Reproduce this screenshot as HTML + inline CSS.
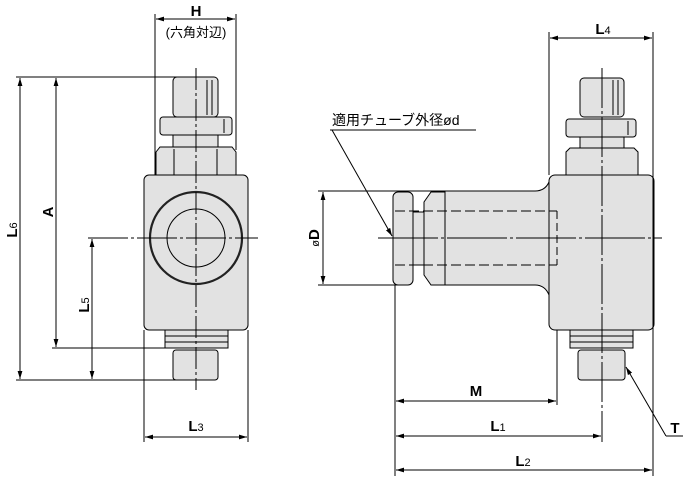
<!DOCTYPE html>
<html><head><meta charset="utf-8"><style>body{margin:0;background:#fff}svg{display:block}</style></head><body>
<svg width="683" height="478" viewBox="0 0 683 478" xmlns="http://www.w3.org/2000/svg" font-family="Liberation Sans, Noto Sans CJK JP, sans-serif">
<defs>
<marker id="a" viewBox="0 0 10 10" refX="10" refY="5" markerWidth="8" markerHeight="8" orient="auto-start-reverse" markerUnits="userSpaceOnUse"><path d="M0,2 L10,5 L0,8 z" fill="#000"/></marker>
</defs>
<g stroke="#000" stroke-width="1" fill="#e2e2e2">
<!-- LEFT VIEW -->
<rect x="173" y="77" width="45" height="40" rx="4"/>
<line x1="207" y1="80" x2="207" y2="115"/><line x1="212" y1="80" x2="212" y2="115"/>
<rect x="160" y="117" width="72" height="18" rx="3"/>
<line x1="224" y1="119" x2="224" y2="133"/>
<rect x="173" y="135" width="45" height="12"/>
<path d="M160,147 L232,147 L236,152 L236,175 L156,175 L156,152 Z"/>
<line x1="174" y1="149" x2="174" y2="175"/><line x1="217" y1="149" x2="217" y2="175"/>
<rect x="144" y="175" width="104" height="155" rx="5"/>
<circle cx="196" cy="238" r="46" stroke-width="2.2" stroke="#222"/>
<circle cx="196" cy="238" r="29"/>
<rect x="165" y="330" width="63" height="18" fill="#e2e2e2"/>
<line x1="165" y1="336" x2="228" y2="336"/><line x1="165" y1="342" x2="228" y2="342"/>
<rect x="173" y="350" width="45" height="30" rx="3"/>
<!-- RIGHT VIEW -->
<rect x="580" y="78" width="44" height="39" rx="4"/>
<line x1="613" y1="80" x2="613" y2="115"/><line x1="618" y1="80" x2="618" y2="115"/>
<rect x="566" y="119" width="70" height="18" rx="3"/>
<line x1="628" y1="121" x2="628" y2="135"/>
<rect x="580" y="137" width="44" height="11"/>
<path d="M570,148 L634,148 L638,152 L638,175 L566,175 L566,152 Z"/>
<path d="M445,191 L535,191 Q545,191 549,182 L549,295 Q545,285 535,285 L445,285 Z"/>
<rect x="549" y="175" width="105" height="155" rx="6"/>
<rect x="413" y="212" width="12" height="53"/>
<path d="M424,202 L431,192 L445,192 L445,285 L431,285 L424,275 Z"/>
<rect x="393" y="192" width="20" height="93" rx="5"/>
<rect x="570" y="330" width="63" height="18"/>
<line x1="570" y1="336" x2="633" y2="336"/><line x1="570" y1="342" x2="633" y2="342"/>
<rect x="578" y="350" width="47" height="30" rx="3"/>
</g>
<g stroke="#000" stroke-width="1" fill="none">
<line x1="155" y1="14" x2="155" y2="175"/><line x1="236" y1="14" x2="236" y2="150"/>
<line x1="156" y1="19" x2="235" y2="19" marker-start="url(#a)" marker-end="url(#a)"/>
<line x1="196" y1="68" x2="196" y2="390" stroke-dasharray="22,3,3,3"/>
<line x1="88" y1="238" x2="258" y2="238" stroke-dasharray="40,3,3,3"/>
<line x1="16" y1="77" x2="178" y2="77"/><line x1="16" y1="380" x2="178" y2="380"/>
<line x1="52" y1="348" x2="166" y2="348"/>
<line x1="20" y1="78" x2="20" y2="379" marker-start="url(#a)" marker-end="url(#a)"/>
<line x1="56" y1="78" x2="56" y2="347" marker-start="url(#a)" marker-end="url(#a)"/>
<line x1="92" y1="239" x2="92" y2="379" marker-start="url(#a)" marker-end="url(#a)"/>
<line x1="144" y1="330" x2="144" y2="442"/><line x1="248" y1="330" x2="248" y2="442"/>
<line x1="145" y1="437" x2="247" y2="437" marker-start="url(#a)" marker-end="url(#a)"/>
<line x1="549" y1="32" x2="549" y2="175"/><line x1="653" y1="32" x2="653" y2="476"/>
<line x1="550" y1="38" x2="652" y2="38" marker-start="url(#a)" marker-end="url(#a)"/>
<line x1="602" y1="68" x2="602" y2="442" stroke-dasharray="40,3,3,3"/>
<line x1="378" y1="238" x2="662" y2="238" stroke-dasharray="60,3,3,3"/>
<line x1="395" y1="211" x2="557" y2="211" stroke-dasharray="10,4"/>
<line x1="395" y1="265" x2="557" y2="265" stroke-dasharray="10,4"/>
<line x1="557" y1="211" x2="557" y2="265" stroke-dasharray="8,4"/>
<line x1="318" y1="191" x2="445" y2="191"/><line x1="318" y1="285" x2="400" y2="285"/>
<line x1="323" y1="192" x2="323" y2="284" marker-start="url(#a)" marker-end="url(#a)"/>
<line x1="395" y1="285" x2="395" y2="476"/><line x1="557" y1="330" x2="557" y2="405"/>
<line x1="396" y1="401" x2="556" y2="401" marker-start="url(#a)" marker-end="url(#a)"/>
<line x1="396" y1="436" x2="601" y2="436" marker-start="url(#a)" marker-end="url(#a)"/>
<line x1="396" y1="470" x2="652" y2="470" marker-start="url(#a)" marker-end="url(#a)"/>
<line x1="330" y1="130" x2="476" y2="130"/>
<line x1="332" y1="130" x2="392" y2="236" marker-end="url(#a)"/>
<line x1="666" y1="436" x2="683" y2="436"/>
<line x1="666" y1="436" x2="626" y2="367" marker-end="url(#a)"/>
</g>
<g fill="#000" font-weight="bold" font-size="15" text-anchor="middle">
<text x="196" y="16">H</text>
<text x="196" y="431">L<tspan font-size="11" font-weight="normal">3</tspan></text>
<text x="603" y="34">L<tspan font-size="11" font-weight="normal">4</tspan></text>
<text x="476" y="396">M</text>
<text x="498" y="431">L<tspan font-size="11" font-weight="normal">1</tspan></text>
<text x="523" y="466">L<tspan font-size="11" font-weight="normal">2</tspan></text>
<text x="675" y="433">T</text>
<text transform="translate(17,230) rotate(-90)">L<tspan font-size="11" font-weight="normal">6</tspan></text>
<text transform="translate(53,212) rotate(-90)">A</text>
<text transform="translate(89,305) rotate(-90)">L<tspan font-size="11" font-weight="normal">5</tspan></text>
<text transform="translate(319,238) rotate(-90)"><tspan font-weight="normal" font-size="11">ø</tspan>D</text>
</g>
<g fill="#000" font-size="14">
<text x="196" y="37" text-anchor="middle" font-size="13">(六角対辺)</text>
<text x="332" y="125">適用チューブ外径ød</text>
</g>
</svg>
</body></html>
